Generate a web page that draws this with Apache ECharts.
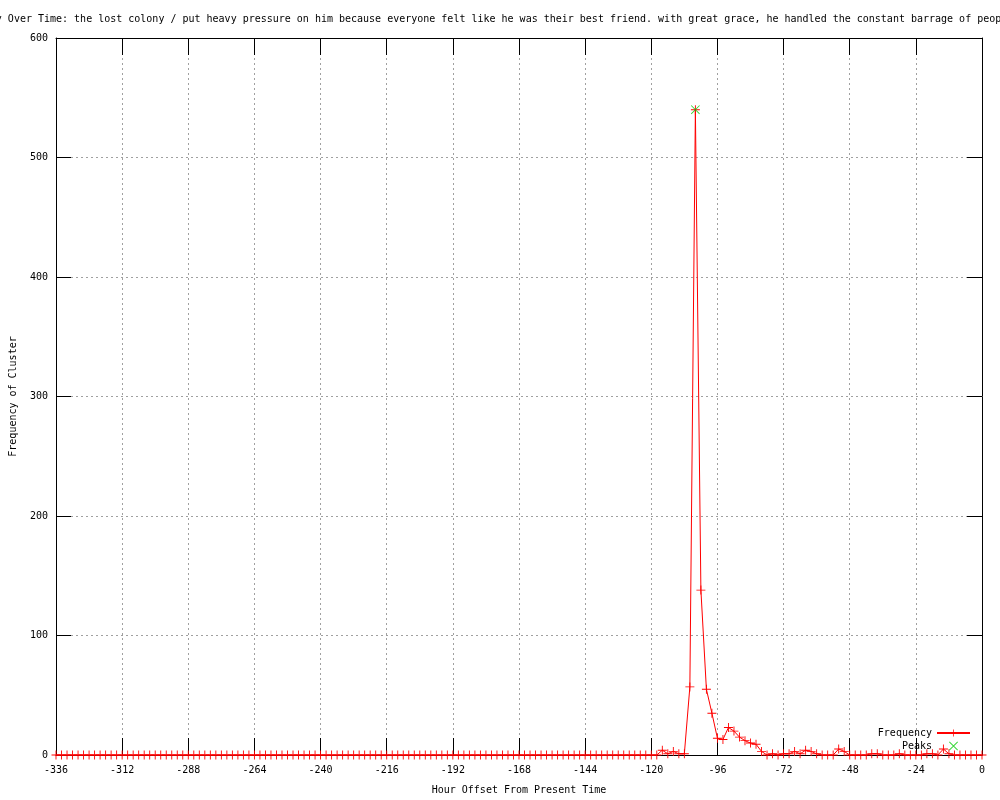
<!DOCTYPE html>
<html>
<head>
<meta charset="utf-8">
<script src="https://cdn.jsdelivr.net/npm/echarts@6/dist/echarts.min.js"></script>
<style>html,body{margin:0;padding:0;background:#fff}#c{width:1000px;height:800px}</style>
</head>
<body>
<div id="c"></div>
<script>
// ---- data ----
const titleText = "Cluster Frequency Over Time: the lost colony / put heavy pressure on him because everyone felt like he was their best friend. with great grace, he handled the constant barrage of people";
const xName = "Hour Offset From Present Time";
const yName = "Frequency of Cluster";
const hourStart = -336;   // first sample (hours)
const hourStep = 2;       // sampling step (hours)
// frequency per sample, from -336 h to 0 h
const frequency = [
  0,0,0,0,0,0,0,0,0,0,
  0,0,0,0,0,0,0,0,0,0,
  0,0,0,0,0,0,0,0,0,0,
  0,0,0,0,0,0,0,0,0,0,
  0,0,0,0,0,0,0,0,0,0,
  0,0,0,0,0,0,0,0,0,0,
  0,0,0,0,0,0,0,0,0,0,
  0,0,0,0,0,0,0,0,0,0,
  0,0,0,0,0,0,0,0,0,0,
  0,0,0,0,0,0,0,0,0,0,
  0,0,0,0,0,0,0,0,0,0,
  // -116 .. -80
  4,1,3,1,1,57,540,138,55,35,14,13,23,20,15,12,10,9,3,
  // -78 .. -60
  0,1,0,1,1,3,1,4,3,1,
  // -58 .. -40
  0,0,0,5,3,0,0,0,0,1,
  // -38 .. -20
  1,0,0,0,1,0,0,0,0,1,
  // -18 .. 0
  1,0,5,1,0,0,0,0,0,0
];
const peakHours = [-104];
const peakValues = [540];
const xTicks = {min: -336, max: 0, interval: 24};
const yTicks = {min: 0, max: 600, interval: 100};

// ---- build ----
const freqData = frequency.map((v, i) => [hourStart + i * hourStep, v]);
const peakData = peakHours.map((h, i) => [h, peakValues[i]]);
const FONT = "DejaVu Sans Mono";
const plusPath = 'path://M0,4.5H10V5.5H0Z M4.5,0H5.5V10H4.5Z';
const crossPath = 'path://M0,0.7L0.7,0L10,9.3L9.3,10Z M9.3,0L10,0.7L0.7,10L0,9.3Z';

const axisLineStyle = {color: '#000', width: 1};
const gridLine = {show: true, lineStyle: {color: '#a0a0a0', width: 1, type: [2, 3]}};

const chart = echarts.init(document.getElementById('c'), null, {renderer: 'canvas'});
chart.setOption({
  animation: false,
  backgroundColor: '#fff',
  title: {
    text: titleText, left: -105.5, top: 9,
    textStyle: {fontFamily: FONT, fontSize: 10, fontWeight: 'normal', color: '#000'}
  },
  grid: {left: 55, right: 18, top: 38, bottom: 40, containLabel: false},
  legend: {
    data: ['Frequency', 'Peaks'],
    orient: 'vertical', align: 'right', right: 24, bottom: 44,
    itemWidth: 33, itemHeight: 9, itemGap: 3,
    textStyle: {fontFamily: FONT, fontSize: 10, color: '#000'}
  },
  xAxis: [{
    type: 'value', position: 'bottom', ...xTicks,
    name: xName, nameLocation: 'middle', nameGap: 30,
    nameTextStyle: {fontFamily: FONT, fontSize: 10, color: '#000'},
    axisLine: {onZero: false, lineStyle: axisLineStyle},
    axisTick: {inside: true, length: 17, lineStyle: axisLineStyle},
    axisLabel: {fontFamily: FONT, fontSize: 10, color: '#000', margin: 10},
    splitLine: gridLine
  }, {
    type: 'value', position: 'top', ...xTicks,
    axisLine: {onZero: false, lineStyle: axisLineStyle},
    axisTick: {inside: true, length: 17, lineStyle: axisLineStyle},
    axisLabel: {show: false}, splitLine: {show: false}
  }],
  yAxis: [{
    type: 'value', position: 'left', ...yTicks,
    name: yName, nameLocation: 'middle', nameGap: 38, nameRotate: 90,
    nameTextStyle: {fontFamily: FONT, fontSize: 10, color: '#000'},
    axisLine: {show: true, onZero: false, lineStyle: axisLineStyle},
    axisTick: {show: true, inside: true, length: 15, lineStyle: axisLineStyle},
    axisLabel: {fontFamily: FONT, fontSize: 10, color: '#000', margin: 8},
    splitLine: gridLine
  }, {
    type: 'value', position: 'right', ...yTicks,
    axisLine: {show: true, onZero: false, lineStyle: axisLineStyle},
    axisTick: {show: true, inside: true, length: 15, lineStyle: axisLineStyle},
    axisLabel: {show: false}, splitLine: {show: false}
  }],
  series: [{
    name: 'Frequency', type: 'line', data: freqData,
    xAxisIndex: 0, yAxisIndex: 0, clip: false,
    symbol: plusPath, symbolSize: 9, showAllSymbol: true,
    color: '#ff0000',
    lineStyle: {color: '#ff0000', width: 1},
    itemStyle: {color: '#ff0000'}
  }, {
    name: 'Peaks', type: 'scatter', data: peakData,
    xAxisIndex: 0, yAxisIndex: 0, clip: false,
    symbol: crossPath, symbolSize: 9, symbolKeepAspect: true,
    color: '#00cc00', itemStyle: {color: '#00cc00'}, z: 5
  }]
});
</script>
</body>
</html>
